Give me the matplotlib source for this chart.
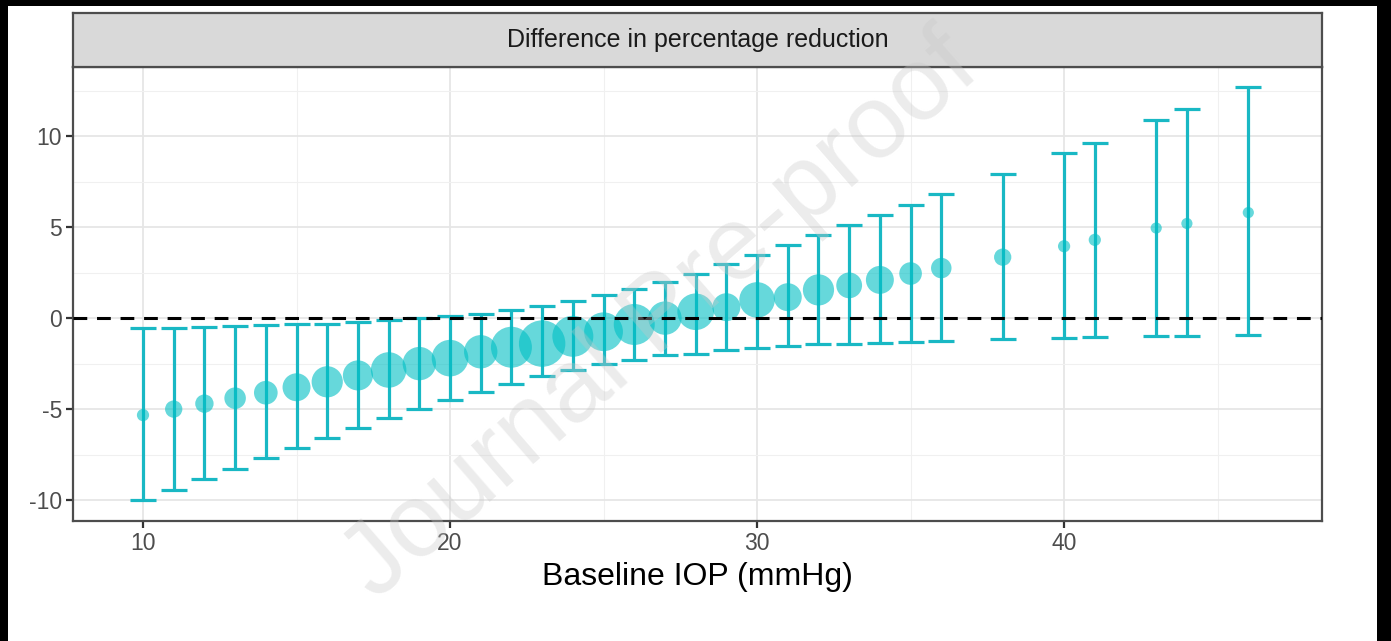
import numpy as np
import matplotlib.pyplot as plt
from matplotlib.patches import Rectangle

plt.rcParams['font.family'] = ['Liberation Sans', 'DejaVu Sans']

# Data
iop = [10, 11, 12, 13, 14, 15, 16, 17, 18, 19, 20, 21, 22, 23, 24, 25, 26, 27,
       28, 29, 30, 31, 32, 33, 34, 35, 36, 38, 40, 41, 43, 44, 46]
diff = [-5.33, -5.0, -4.7, -4.4, -4.1, -3.8, -3.5, -3.15, -2.85, -2.5, -2.2,
        -1.85, -1.6, -1.4, -1.0, -0.75, -0.35, 0.0, 0.35, 0.6, 1.0, 1.15, 1.55,
        1.8, 2.1, 2.45, 2.75, 3.35, 3.95, 4.3, 4.95, 5.2, 5.8]
lower = [-10.0, -9.45, -8.85, -8.3, -7.7, -7.15, -6.6, -6.05, -5.5, -5.0, -4.5,
         -4.05, -3.6, -3.2, -2.85, -2.5, -2.3, -2.0, -1.95, -1.75, -1.65, -1.55,
         -1.45, -1.4, -1.35, -1.3, -1.25, -1.15, -1.1, -1.05, -1.0, -1.0, -0.95]
upper = [-0.55, -0.55, -0.5, -0.45, -0.4, -0.35, -0.3, -0.2, -0.1, 0.0, 0.1,
         0.25, 0.45, 0.65, 0.95, 1.25, 1.6, 2.0, 2.45, 2.95, 3.45, 4.0, 4.55,
         5.1, 5.65, 6.2, 6.8, 7.9, 9.05, 9.65, 10.9, 11.5, 12.7]
n_eyes = [25, 56, 64, 90, 110, 156, 196, 182, 256, 225, 272, 225, 342, 441,
          342, 306, 342, 225, 272, 156, 256, 156, 196, 132, 156, 100, 81, 56,
          25, 25, 20, 20, 20]

W, H = 1391, 641
fig = plt.figure(figsize=(W / 100, H / 100), dpi=100, facecolor='black')

# white page inside the black frame
fig.patches.append(Rectangle((8 / W, 0), (1377 - 8) / W, (H - 6) / H,
                             transform=fig.transFigure, facecolor='white',
                             edgecolor='none', zorder=-5))

left, right, top, bottom = 73, 1322, 67, 521
ax = fig.add_axes([left / W, 1 - bottom / H, (right - left) / W, (bottom - top) / H])

teal = '#00BFC4'
x = np.array(iop)
y = np.array(diff)
yerr = [y - np.array(lower), np.array(upper) - y]
ax.errorbar(x, y, yerr=yerr, fmt='none', ecolor='#19B8C4', elinewidth=2.3,
            capsize=9.5, capthick=2.3, zorder=3)
ax.scatter(x, y, s=2.5 * np.array(n_eyes) + 15, color=teal, alpha=0.6,
           edgecolor='none', zorder=4)
ax.axhline(0, color='black', linestyle=(0, (4.5, 3.2)), linewidth=2.2, zorder=5)

ax.set_xlim(7.72, 48.4)
ax.set_ylim(-11.15, 13.8)
ax.set_xticks([10, 20, 30, 40])
ax.set_yticks([-10, -5, 0, 5, 10])
ax.set_xticks([15, 25, 35, 45], minor=True)
ax.set_yticks([-7.5, -2.5, 2.5, 7.5, 12.5], minor=True)
ax.grid(which='major', color='#E6E6E6', linewidth=1.3, zorder=0)
ax.grid(which='minor', color='#F0F0F0', linewidth=0.8, zorder=0)
ax.set_axisbelow(True)
ax.tick_params(which='minor', length=0)
ax.tick_params(which='major', length=5, width=1.6, color='#333333',
               labelsize=16.5, labelcolor='#4D4D4D', pad=3)
ax.set_yticklabels(['-10', '-5', '0', '5', '10'])
for sp in ax.spines.values():
    sp.set_color('#4D4D4D')
    sp.set_linewidth(1.6)
ax.set_xlabel('Baseline IOP (mmHg)', fontsize=23, color='black', labelpad=5)

# facet strip
strip = fig.add_axes([left / W, 1 - top / H, (right - left) / W, (top - 13) / H])
strip.set_facecolor('#D9D9D9')
strip.set_xticks([])
strip.set_yticks([])
for sp in strip.spines.values():
    sp.set_color('#4D4D4D')
    sp.set_linewidth(1.6)
strip.text(0.5, 0.5, 'Difference in percentage reduction', ha='center',
           va='center', fontsize=18, color='#1A1A1A', transform=strip.transAxes)

# watermark
fig.text(662 / W, 1 - 318 / H, 'Journal Pre-proof', rotation=41, ha='center',
         va='center', fontsize=75, color='#C8C8C8', alpha=0.35, zorder=10)

fig.savefig('out.png', dpi=100, facecolor='black')
